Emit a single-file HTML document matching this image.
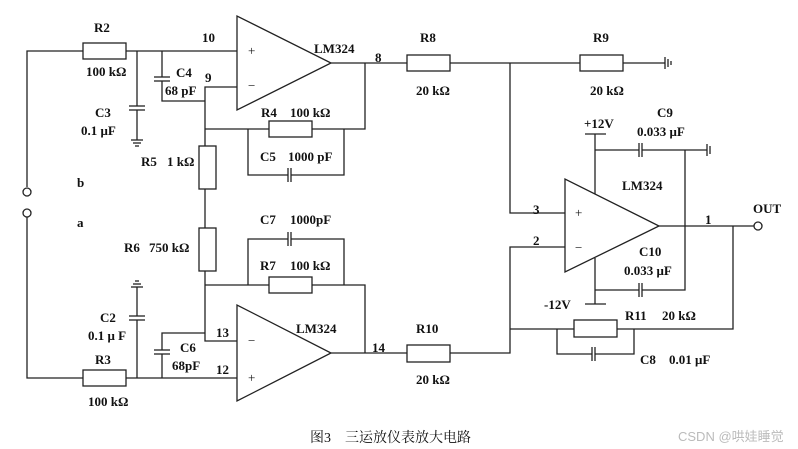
<!DOCTYPE html>
<html><head><meta charset="utf-8"><style>
body{margin:0;background:#fff;}
svg{display:block}
text{font-family:"Liberation Serif","Noto Serif CJK SC",serif;font-weight:bold;font-size:13px;fill:#111}
.c{font-weight:normal;font-size:14px}
.w{font-family:"Liberation Sans","Noto Sans CJK SC",sans-serif;font-weight:normal;fill:#bbb;font-size:13px}
</style></head><body>
<svg width="798" height="449" viewBox="0 0 798 449" xmlns="http://www.w3.org/2000/svg">
<g fill="none" stroke="#222" stroke-width="1.3">
<!-- top opamp -->
<polygon points="237,16 237,110 331,63" fill="#fff"/>
<polyline points="27,187 27,51 83,51"/><rect x="83" y="43" width="43" height="16" fill="#fff"/>
<line x1="126" y1="51" x2="237" y2="51"/>
<line x1="137" y1="51" x2="137" y2="106"/><line x1="129" y1="106" x2="145" y2="106"/><line x1="129" y1="110" x2="145" y2="110"/><line x1="137" y1="110" x2="137" y2="140"/>
<line x1="131" y1="140" x2="143" y2="140"/><line x1="133" y1="143" x2="141" y2="143"/><line x1="135" y1="146" x2="139" y2="146"/>
<line x1="162" y1="51" x2="162" y2="77"/><line x1="154" y1="77" x2="170" y2="77"/><line x1="154" y1="81" x2="170" y2="81"/><polyline points="162,81 162,101 205,101"/>
<polyline points="237,87 205,87 205,146"/>
<rect x="199" y="146" width="17" height="43" fill="#fff"/>
<line x1="205" y1="129" x2="269" y2="129"/><rect x="269" y="121" width="43" height="16" fill="#fff"/><polyline points="312,129 365,129 365,63"/>
<polyline points="248,129 248,175 288,175"/><polyline points="291,175 344,175 344,129"/><line x1="288" y1="168" x2="288" y2="182"/><line x1="291" y1="168" x2="291" y2="182"/>
<polyline points="331,63 407,63"/><rect x="407" y="55" width="43" height="16" fill="#fff"/><line x1="450" y1="63" x2="580" y2="63"/>
<rect x="580" y="55" width="43" height="16" fill="#fff"/><line x1="623" y1="63" x2="665" y2="63"/>
<line x1="665" y1="57" x2="665" y2="69"/><line x1="668" y1="59" x2="668" y2="67"/><line x1="671" y1="61" x2="671" y2="65"/>
<polyline points="510,63 510,213 565,213"/>
<!-- lower opamp -->
<polygon points="237,305 237,401 331,353" fill="#fff"/>
<line x1="205" y1="189" x2="205" y2="228"/><rect x="199" y="228" width="17" height="43" fill="#fff"/>
<polyline points="205,271 205,341 237,341"/>
<line x1="205" y1="285" x2="269" y2="285"/><rect x="269" y="277" width="43" height="16" fill="#fff"/><polyline points="312,285 365,285 365,353"/>
<polyline points="248,285 248,239 288,239"/><polyline points="291,239 344,239 344,285"/><line x1="288" y1="232" x2="288" y2="246"/><line x1="291" y1="232" x2="291" y2="246"/>
<polyline points="27,217 27,378 83,378"/><rect x="83" y="370" width="43" height="16" fill="#fff"/><line x1="126" y1="378" x2="237" y2="378"/>
<line x1="137" y1="378" x2="137" y2="320"/><line x1="129" y1="320" x2="145" y2="320"/><line x1="129" y1="316" x2="145" y2="316"/><line x1="137" y1="316" x2="137" y2="287"/>
<line x1="131" y1="287" x2="143" y2="287"/><line x1="133" y1="284" x2="141" y2="284"/><line x1="135" y1="281" x2="139" y2="281"/>
<line x1="162" y1="378" x2="162" y2="354"/><line x1="154" y1="354" x2="170" y2="354"/><line x1="154" y1="350" x2="170" y2="350"/><polyline points="162,350 162,333 205,333"/>
<line x1="331" y1="353" x2="407" y2="353"/><rect x="407" y="345" width="43" height="17" fill="#fff"/><polyline points="450,353 510,353 510,247 565,247"/>
<line x1="510" y1="329" x2="574" y2="329"/><rect x="574" y="320" width="43" height="17" fill="#fff"/><polyline points="617,329 733,329 733,226"/>
<polyline points="557,329 557,354 592,354"/><polyline points="595,354 634,354 634,329"/><line x1="592" y1="347" x2="592" y2="361"/><line x1="595" y1="347" x2="595" y2="361"/>
<!-- right opamp -->
<polygon points="565,179 565,272 659,226" fill="#fff"/>
<line x1="659" y1="226" x2="754" y2="226"/>
<line x1="585" y1="134" x2="606" y2="134"/><line x1="595" y1="134" x2="595" y2="194"/>
<line x1="595" y1="150" x2="639" y2="150"/><line x1="642" y1="150" x2="707" y2="150"/><line x1="639" y1="143" x2="639" y2="157"/><line x1="642" y1="143" x2="642" y2="157"/>
<line x1="707" y1="144" x2="707" y2="156"/><line x1="710" y1="146" x2="710" y2="154"/>
<polyline points="685,150 685,290 642,290"/><polyline points="639,290 595,290"/><line x1="639" y1="283" x2="639" y2="297"/><line x1="642" y1="283" x2="642" y2="297"/>
<line x1="595" y1="258" x2="595" y2="304"/><line x1="585" y1="304" x2="606" y2="304"/>
<circle cx="27" cy="192" r="4" fill="#fff"/><circle cx="27" cy="213" r="4" fill="#fff"/><circle cx="758" cy="226" r="4" fill="#fff"/>
</g>
<g>
<text x="94" y="32">R2</text><text x="86" y="76">100 kΩ</text>
<text x="202" y="42">10</text><text x="248" y="55" style="font-weight:normal">+</text><text x="248" y="90" style="font-weight:normal">−</text>
<text x="314" y="53">LM324</text><text x="375" y="62">8</text>
<text x="176" y="77">C4</text><text x="205" y="82">9</text><text x="165" y="95">68 pF</text>
<text x="95" y="117">C3</text><text x="81" y="135">0.1 μF</text>
<text x="261" y="117">R4</text><text x="290" y="117">100 kΩ</text>
<text x="260" y="161">C5</text><text x="288" y="161">1000 pF</text>
<text x="141" y="166">R5</text><text x="167" y="166">1 kΩ</text>
<text x="77" y="187">b</text><text x="77" y="227">a</text>
<text x="260" y="224">C7</text><text x="290" y="224">1000pF</text>
<text x="124" y="252">R6</text><text x="149" y="252">750 kΩ</text>
<text x="260" y="270">R7</text><text x="290" y="270">100 kΩ</text>
<text x="100" y="322">C2</text><text x="88" y="340">0.1 μ F</text>
<text x="296" y="333">LM324</text><text x="216" y="337">13</text><text x="216" y="374">12</text>
<text x="180" y="352">C6</text><text x="172" y="370">68pF</text>
<text x="248" y="345" style="font-weight:normal">−</text><text x="248" y="382" style="font-weight:normal">+</text>
<text x="95" y="364">R3</text><text x="88" y="406">100 kΩ</text>
<text x="372" y="352">14</text>
<text x="420" y="42">R8</text><text x="416" y="95">20 kΩ</text>
<text x="593" y="42">R9</text><text x="590" y="95">20 kΩ</text>
<text x="584" y="128">+12V</text><text x="657" y="117">C9</text><text x="637" y="136">0.033 μF</text>
<text x="622" y="190">LM324</text><text x="533" y="214">3</text><text x="533" y="245">2</text>
<text x="575" y="217" style="font-weight:normal">+</text><text x="575" y="252" style="font-weight:normal">−</text>
<text x="705" y="224">1</text><text x="753" y="213">OUT</text>
<text x="639" y="256">C10</text><text x="624" y="275">0.033 μF</text>
<text x="544" y="309">-12V</text><text x="625" y="320">R11</text><text x="662" y="320">20 kΩ</text>
<text x="640" y="364">C8</text><text x="669" y="364">0.01 μF</text>
<text x="416" y="333">R10</text><text x="416" y="384">20 kΩ</text>
<text class="c" x="310" y="442">图3　三运放仪表放大电路</text>
<text class="w" x="678" y="441">CSDN @哄娃睡觉</text>
</g>
</svg>
</body></html>
